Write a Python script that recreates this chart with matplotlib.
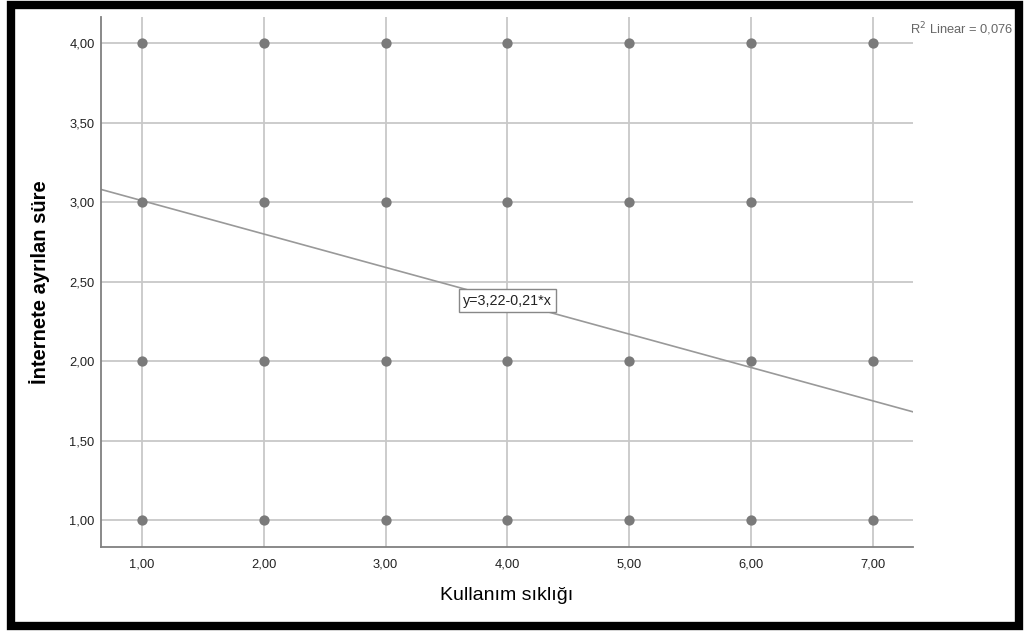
import matplotlib.pyplot as plt
from matplotlib.patches import Rectangle

plt.rcParams['font.family'] = ['Liberation Sans', 'DejaVu Sans']

# observed (Kullanım sıklığı, İnternete ayrılan süre) combinations
x_vals = [1, 2, 3, 4, 5, 6, 7,
          1, 2, 3, 4, 5, 6,
          1, 2, 3, 4, 5, 6, 7,
          1, 2, 3, 4, 5, 6, 7]
y_vals = [4, 4, 4, 4, 4, 4, 4,
          3, 3, 3, 3, 3, 3,
          2, 2, 2, 2, 2, 2, 2,
          1, 1, 1, 1, 1, 1, 1]

intercept = 3.22
slope = -0.21
r2_text = "R$^2$ Linear = 0,076"
eq_text = "y=3,22-0,21*x"

x_ticks = [1, 2, 3, 4, 5, 6, 7]
x_labels = ["1,00", "2,00", "3,00", "4,00", "5,00", "6,00", "7,00"]
y_ticks = [1.0, 1.5, 2.0, 2.5, 3.0, 3.5, 4.0]
y_labels = ["1,00", "1,50", "2,00", "2,50", "3,00", "3,50", "4,00"]

fig = plt.figure(figsize=(10.24, 6.33), dpi=100)
ax = fig.add_axes([101 / 1024, 1 - 547 / 633, (913 - 101) / 1024, (547 - 17) / 633])

xmin, xmax = 0.663, 7.33
ax.set_xlim(xmin, xmax)
ax.set_ylim(0.83, 4.166)

ax.set_xticks(x_ticks)
ax.set_xticklabels(x_labels, fontsize=9.3, color='#222222')
ax.set_yticks(y_ticks)
ax.set_yticklabels(y_labels, fontsize=9.3, color='#222222')
ax.tick_params(axis='x', length=0, pad=8)
ax.tick_params(axis='y', length=0, pad=4.5)

ax.grid(True, color='#c8c8c8', linewidth=1.3)
ax.set_axisbelow(True)
for side in ('top', 'right'):
    ax.spines[side].set_visible(False)
for side in ('left', 'bottom'):
    ax.spines[side].set_color('#808080')
    ax.spines[side].set_linewidth(1.3)

ax.scatter(x_vals, y_vals, s=55, color='#7a7a7a', zorder=3, linewidths=0)

ax.plot([xmin, xmax], [intercept + slope * xmin, intercept + slope * xmax],
        color='#999999', linewidth=1.2, zorder=2)

ax.text(4.0, intercept + slope * 4.0, eq_text, fontsize=10.3, ha='center', va='center',
        color='#222222', zorder=4,
        bbox=dict(boxstyle='square,pad=0.3', facecolor='white', edgecolor='#888888', linewidth=1))

fig.text(1013 / 1024, 1 - 29 / 633, r2_text, fontsize=9.3, color='#666666', ha='right', va='center')

ax.set_xlabel("Kullanım sıklığı", fontsize=14, labelpad=12, color='black')
ax.set_ylabel("İnternete ayrılan süre", fontsize=14.5, fontweight='bold', labelpad=14, color='black')

fig.patches.append(Rectangle((11 / 1024, 7 / 633), (1019 - 11) / 1024, (628 - 7) / 633,
                             transform=fig.transFigure, fill=False,
                             edgecolor='black', linewidth=6))

fig.savefig('out.png', dpi=100)
